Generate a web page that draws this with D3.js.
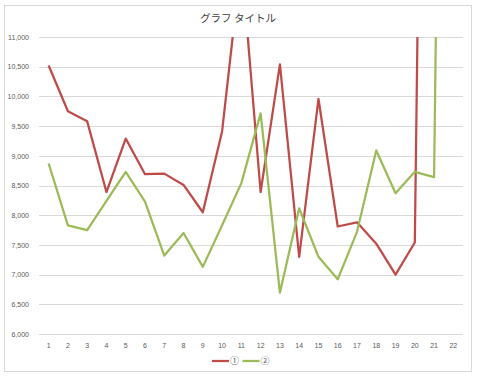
<!DOCTYPE html>
<html>
<head>
<meta charset="utf-8">
<script src="https://cdn.jsdelivr.net/npm/d3@7"></script>
<style>
  body { margin: 0; background: #fff; }
  svg { display: block; }
</style>
</head>
<body>
<div id="chart"></div>
<script>
// categories and series values
const categories = ["1", "2", "3", "4", "5", "6", "7", "8", "9", "10", "11",
  "12", "13", "14", "15", "16", "17", "18", "19", "20", "21", "22"];
const series1 = [10520, 9750, 9580, 8390, 9290, 8690, 8700, 8510, 8050, 9410, 12300,
  8390, 10540, 7300, 9960, 7810, 7880, 7520, 7000, 7540, 33000, null];
const series2 = [8870, 7830, 7750, 8240, 8730, 8230, 7320, 7700, 7130, 7830, 8540,
  9715, 6695, 8115, 7300, 6920, 7720, 9090, 8370, 8730, 8640, 35000];
const seriesNames = ["①", "②"];
const yTicks = [6000, 6500, 7000, 7500, 8000, 8500, 9000, 9500, 10000, 10500, 11000];
const title = "グラフ タイトル";

const W = 480, H = 376;
const margin = { top: 37, right: 17, bottom: 42, left: 39 };

const svg = d3.select("#chart").append("svg")
  .attr("width", W)
  .attr("height", H);

// chart border
svg.append("rect")
  .attr("x", 4.5).attr("y", 5.5)
  .attr("width", 467).attr("height", 366)
  .attr("fill", "#fff")
  .attr("stroke", "#d9d9d9");

const x = d3.scaleBand()
  .domain(categories)
  .range([margin.left, W - margin.right]);

const y = d3.scaleLinear()
  .domain([6000, 11000])
  .range([H - margin.bottom, margin.top]);

// gridlines
svg.append("g")
  .selectAll("line")
  .data(yTicks)
  .join("line")
  .attr("x1", margin.left)
  .attr("x2", W - margin.right)
  .attr("y1", (d) => Math.round(y(d)) + 0.5)
  .attr("y2", (d) => Math.round(y(d)) + 0.5)
  .attr("stroke", "#d9d9d9")
  .attr("stroke-width", 1);

// y axis labels
const yAxis = svg.append("g")
  .attr("transform", `translate(${margin.left - 7},0)`)
  .call(d3.axisLeft(y).tickValues(yTicks).tickSize(0).tickFormat(d3.format(",")));
yAxis.select(".domain").remove();
yAxis.selectAll("text")
  .attr("fill", "#595959")
  .style("font-family", "Liberation Sans, Arial, sans-serif")
  .style("font-size", "7px");

// x axis labels
const xAxis = svg.append("g")
  .attr("transform", `translate(0,${H - margin.bottom + 6})`)
  .call(d3.axisBottom(x).tickSize(0));
xAxis.select(".domain").remove();
xAxis.selectAll("text")
  .attr("fill", "#595959")
  .style("font-family", "Liberation Sans, Arial, sans-serif")
  .style("font-size", "7px");

// clip lines to the plot area
svg.append("clipPath")
  .attr("id", "plot-clip")
  .append("rect")
  .attr("x", margin.left)
  .attr("y", margin.top)
  .attr("width", W - margin.left - margin.right)
  .attr("height", H - margin.top - margin.bottom);

const color = d3.scaleOrdinal().domain(seriesNames).range(["#be4b48", "#9bbb59"]);

const line = d3.line()
  .defined((d) => d != null)
  .x((d, i) => x(categories[i]) + x.bandwidth() / 2)
  .y((d) => y(d));

svg.append("g")
  .attr("clip-path", "url(#plot-clip)")
  .selectAll("path")
  .data([series1, series2])
  .join("path")
  .attr("fill", "none")
  .attr("stroke", (d, i) => color(seriesNames[i]))
  .attr("stroke-width", 2.25)
  .attr("stroke-linejoin", "round")
  .attr("d", line);

// title
svg.append("text")
  .attr("x", 238)
  .attr("y", 22)
  .attr("text-anchor", "middle")
  .attr("fill", "#404040")
  .style("font-family", "Noto Sans CJK JP, sans-serif")
  .style("font-size", "10.5px")
  .text(title);

// legend
const legend = svg.append("g")
  .selectAll("g")
  .data(seriesNames)
  .join("g")
  .attr("transform", (d, i) => `translate(${212 + i * 30.5},361)`);
legend.append("line")
  .attr("x1", 0).attr("x2", 17)
  .attr("stroke", (d) => color(d))
  .attr("stroke-width", 2.25);
legend.append("text")
  .attr("x", 18)
  .attr("y", 3)
  .attr("fill", "#595959")
  .style("font-family", "Noto Sans CJK JP, sans-serif")
  .style("font-size", "9px")
  .text((d) => d);
</script>
</body>
</html>
